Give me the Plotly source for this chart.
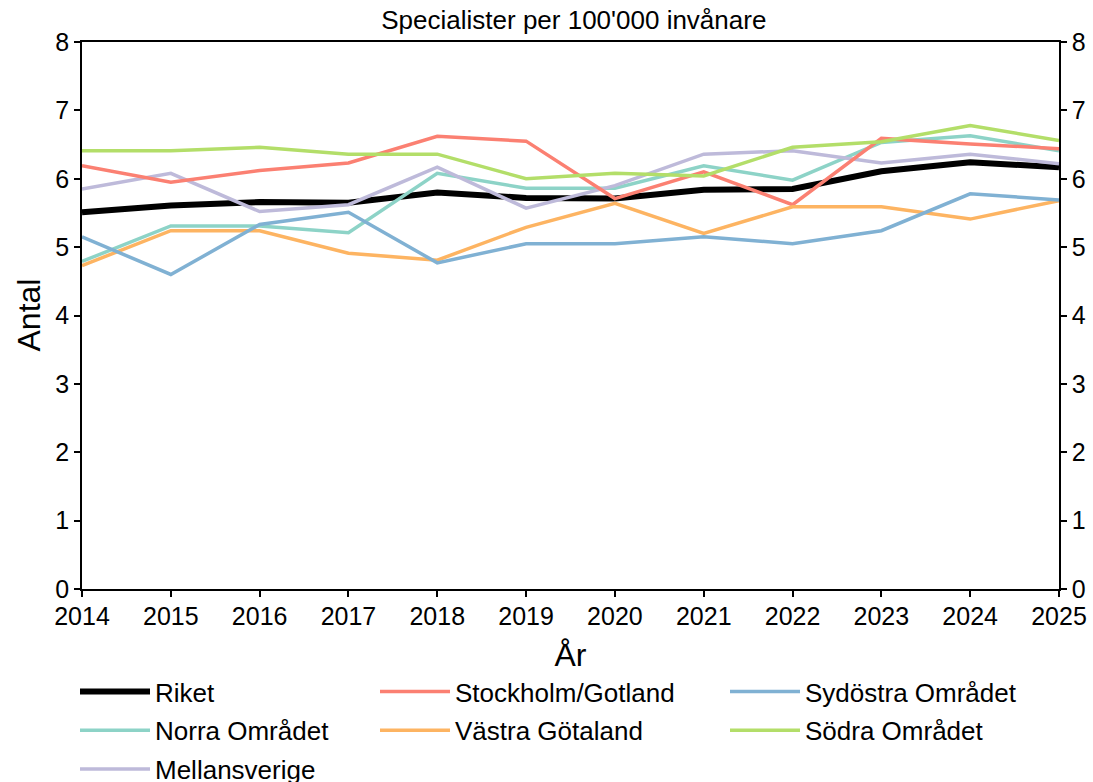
import plotly.graph_objects as go

years = [2014, 2015, 2016, 2017, 2018, 2019, 2020, 2021, 2022, 2023, 2024, 2025]

riket = [5.51, 5.61, 5.66, 5.65, 5.80, 5.72, 5.71, 5.84, 5.85, 6.11, 6.24, 6.17]
norra = [4.79, 5.31, 5.31, 5.21, 6.08, 5.86, 5.86, 6.19, 5.98, 6.53, 6.63, 6.41]
mellansverige = [5.85, 6.08, 5.52, 5.62, 6.17, 5.57, 5.90, 6.36, 6.41, 6.23, 6.36, 6.22]
stockholm = [6.19, 5.95, 6.12, 6.23, 6.62, 6.55, 5.71, 6.10, 5.62, 6.59, 6.51, 6.44]
vastra = [4.73, 5.24, 5.24, 4.91, 4.81, 5.29, 5.64, 5.20, 5.59, 5.59, 5.41, 5.68]
sydostra = [5.15, 4.60, 5.33, 5.51, 4.77, 5.05, 5.05, 5.15, 5.05, 5.24, 5.78, 5.69]
sodra = [6.41, 6.41, 6.46, 6.36, 6.36, 6.00, 6.08, 6.04, 6.46, 6.54, 6.78, 6.56]

series = [
    ("Riket", riket, "#000000", 6, "legend"),
    ("Norra Området", norra, "#8dd3c7", 3.5, "legend"),
    ("Mellansverige", mellansverige, "#bebada", 3.5, "legend"),
    ("Stockholm/Gotland", stockholm, "#fb8072", 3.5, "legend2"),
    ("Västra Götaland", vastra, "#fdb462", 3.5, "legend2"),
    ("Sydöstra Området", sydostra, "#80b1d3", 3.5, "legend3"),
    ("Södra Området", sodra, "#b3de69", 3.5, "legend3"),
]

FONT = "Liberation Sans, Arial, Helvetica, sans-serif"

fig = go.Figure()
for name, vals, color, width, leg in series:
    fig.add_trace(go.Scatter(
        x=years, y=vals, mode="lines", name=name,
        line=dict(color=color, width=width),
        legend=leg, legendgroup=name,
    ))

# invisible trace so the mirrored right-hand axis is drawn
fig.add_trace(go.Scatter(
    x=years, y=riket, mode="lines", yaxis="y2", showlegend=False,
    hoverinfo="skip", line=dict(color="rgba(0,0,0,0)", width=0),
))

legend_common = dict(
    orientation="v", xref="container", yref="container",
    yanchor="top", xanchor="left", font=dict(family=FONT, size=26, color="#000"),
    bgcolor="rgba(0,0,0,0)", itemwidth=70, tracegroupgap=2,
)

axis_common = dict(
    showline=True, linecolor="#000", linewidth=1.5, ticks="outside",
    ticklen=6, tickwidth=1.5, tickcolor="#000", showgrid=False, zeroline=False,
    tickfont=dict(family=FONT, size=25, color="#000"),
)

fig.update_layout(
    width=1093, height=782,
    margin=dict(l=82, r=34, t=42, b=193, autoexpand=False),
    plot_bgcolor="white", paper_bgcolor="white",
    font=dict(family=FONT, color="#000"),
    title=dict(text="Specialister per 100'000 invånare", x=0.525, xanchor="center",
               xref="container", yref="container", y=1 - 20 / 782, yanchor="middle",
               font=dict(family=FONT, size=26, color="#000")),
    xaxis=dict(range=[2014, 2025], dtick=1, tick0=2014, mirror=True, ticklabelstandoff=-2,
               title=dict(text="År", font=dict(family=FONT, size=32, color="#000")),
               **axis_common),
    yaxis=dict(range=[0, 8], dtick=1, tick0=0, **axis_common),
    yaxis2=dict(range=[0, 8], dtick=1, tick0=0, overlaying="y", side="right", anchor="x",
                **axis_common),
    legend=dict(x=75 / 1093, y=1 - 668 / 782, **legend_common),
    legend2=dict(x=375 / 1093, y=1 - 668 / 782, **legend_common),
    legend3=dict(x=725 / 1093, y=1 - 668 / 782, **legend_common),
    showlegend=True,
    annotations=[dict(text="Antal", textangle=-90, showarrow=False,
                      xref="paper", yref="paper", x=(28 - 82) / 977, y=0.5,
                      xanchor="center", yanchor="middle",
                      font=dict(family=FONT, size=32, color="#000"))],
)

fig.write_html("out.html", post_script="document.body.style.margin='0px';",
               config={"displayModeBar": False})
